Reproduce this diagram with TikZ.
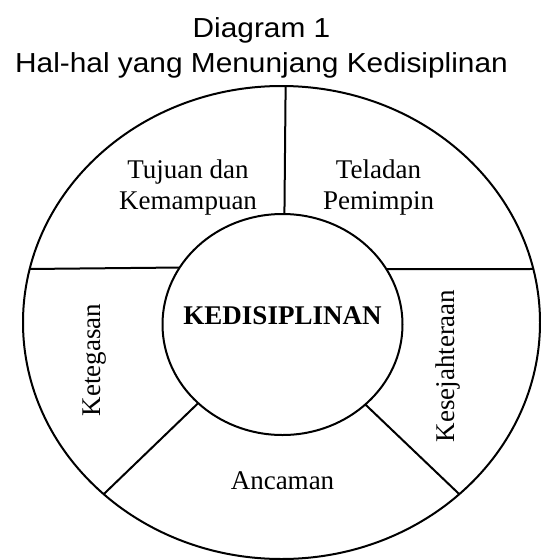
\documentclass[tikz,border=0pt]{standalone}
\usepackage{fontspec}
\setmainfont{Liberation Serif}
\newfontfamily\titlefont[FakeStretch=1.085]{Liberation Sans}
\usetikzlibrary{shapes.geometric}
\begin{document}
\begin{tikzpicture}[x=1pt,y=-1pt,line width=2pt,
  ring/.style={ellipse,draw,inner sep=0pt,outer sep=0pt},
  divider/.style={draw,line width=2pt},
  lbl/.style={inner sep=0pt,font=\fontsize{27}{31.3}\selectfont,align=center},
  titletext/.style={inner sep=0pt,font=\titlefont\fontsize{27.5}{34.7}\selectfont,align=center}]
\useasboundingbox (0,0) rectangle (541,560);
\node[titletext,anchor=north] (title) at (261.5,16.5) {Diagram 1\\Hal-hal yang Menunjang Kedisiplinan};
\node[ring,minimum width=517pt,minimum height=473pt] (outer) at (281.5,322.5) {};
\node[ring,minimum width=240pt,minimum height=221pt] (inner) at (282.5,324.5) {};
\draw[divider] (outer.89.6) -- (inner.89.6);
\draw[divider] (outer.168) -- (inner.151.87);
\draw[divider] (outer.12) -- (inner.28.13);
\draw[divider] (outer.224.26) -- (inner.223.1);
\draw[divider] (outer.316.2) -- (inner.316.9);
\node[lbl,anchor=north] (tujuan) at (188,158.3) {Tujuan dan\\Kemampuan};
\node[lbl,anchor=north] (teladan) at (378.5,158.3) {Teladan\\Pemimpin};
\node[lbl,anchor=base,font=\fontsize{27}{31.3}\selectfont\bfseries] (center) at (282.5,324) {KEDISIPLINAN};
\node[lbl,anchor=base,rotate=90] (ketegasan) at (100.5,360) {Ketegasan};
\node[lbl,anchor=base,rotate=90] (kesejahteraan) at (454.5,366) {Kesejahteraan};
\node[lbl,anchor=base] (ancaman) at (282.5,489.3) {Ancaman};
\end{tikzpicture}
\end{document}
